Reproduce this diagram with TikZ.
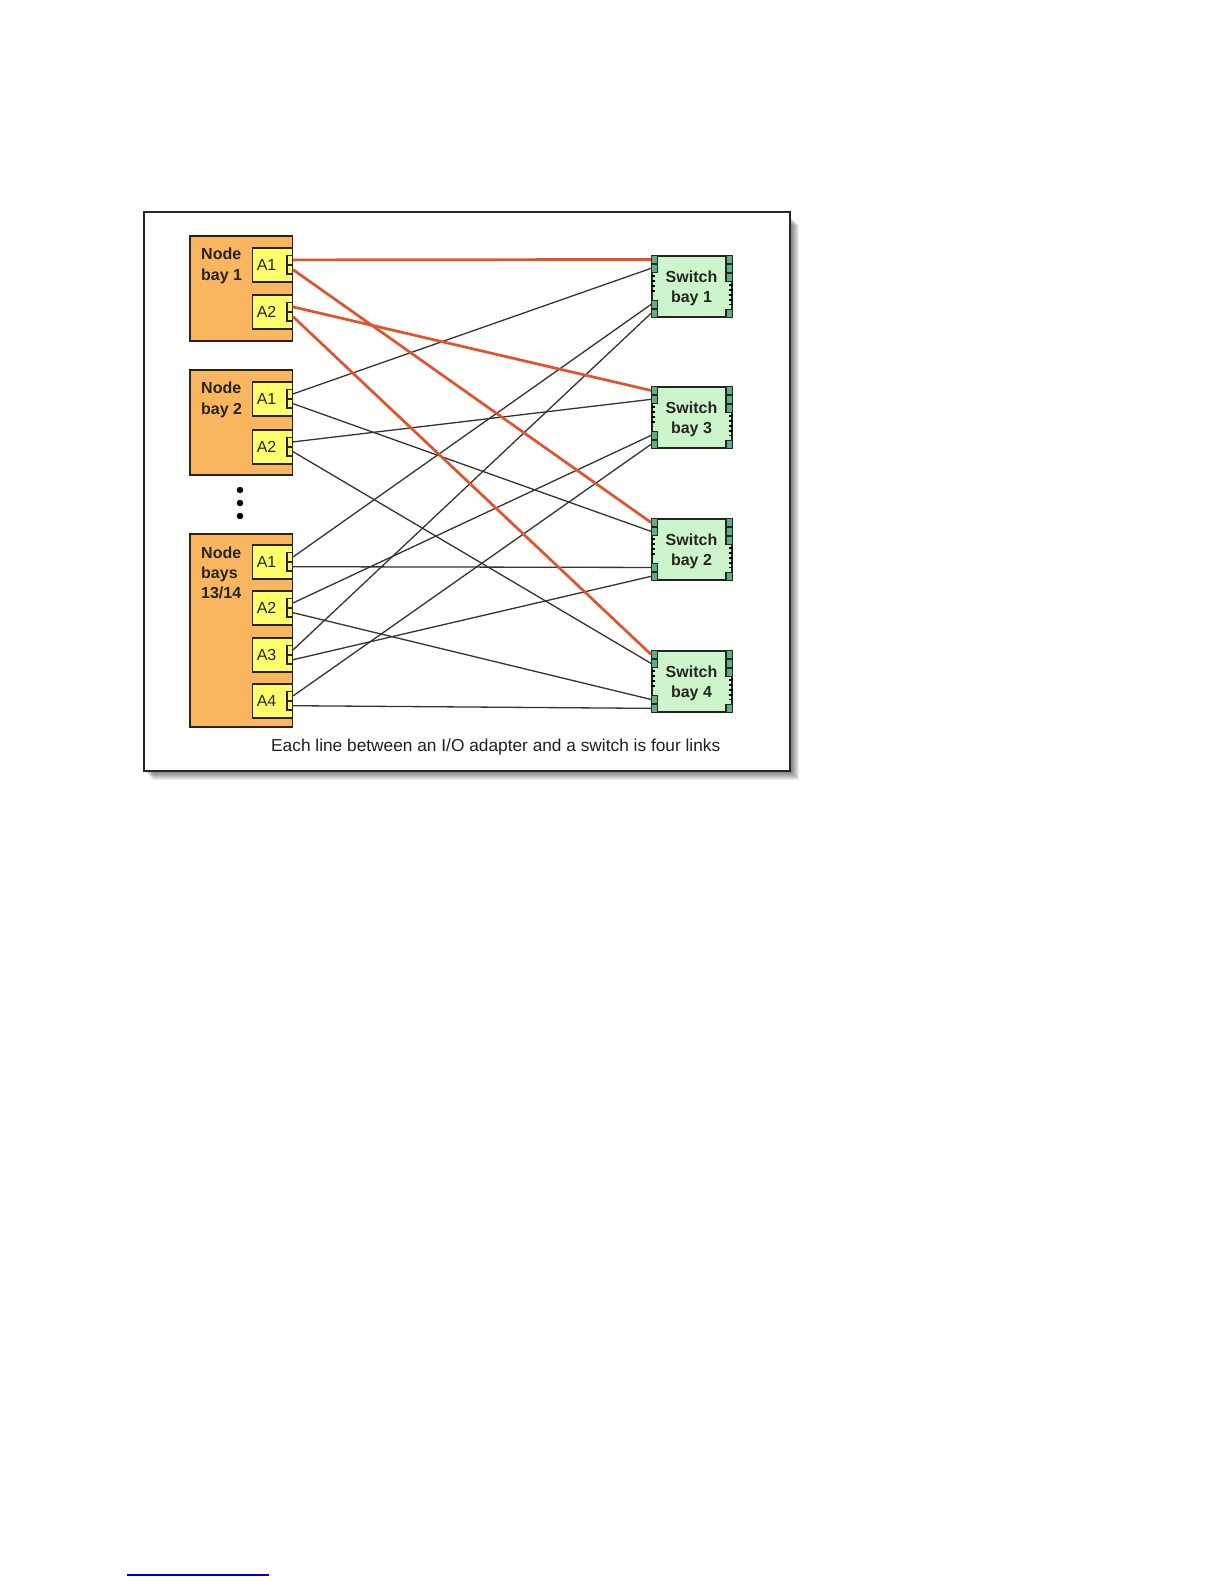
\documentclass[tikz,border=0pt]{standalone}
\usepackage{fontspec}
\setmainfont{Liberation Sans}
\definecolor{nodeorange}{HTML}{F9B65F}
\definecolor{adapteryellow}{HTML}{FFFF6B}
\definecolor{switchgreen}{HTML}{CCF5CC}
\definecolor{portgreen}{HTML}{5DB083}
\definecolor{linkred}{HTML}{E2532B}
\definecolor{edgec}{HTML}{262420}
\definecolor{linkgray}{HTML}{333333}
\definecolor{footblue}{HTML}{0000CC}
\tikzset{
  bay/.style={draw=edgec, line width=1.7, fill=nodeorange, rectangle, inner sep=0, anchor=north west, minimum width=102.5},
  baylabel/.style={anchor=north west, inner sep=0, align=left, text=edgec, font=\bfseries\fontsize{16}{21}\selectfont},
  abox/.style={draw=edgec, line width=1.6, fill=adapteryellow, rectangle, anchor=north west, minimum width=40, minimum height=34, text width=31, align=left, inner xsep=4.5, inner ysep=0, text height=11.5, text depth=0, text=edgec, font=\fontsize{16}{19}\selectfont},
  aport/.style={draw=edgec, line width=1.3, fill=adapteryellow, rectangle, inner sep=0, minimum width=5.5, minimum height=8.5},
  switchbox/.style={draw=edgec, line width=1.8, fill=switchgreen, rectangle, inner sep=0, anchor=north west, minimum width=80, minimum height=61},
  swlabel/.style={anchor=north, inner sep=0, align=center, text=edgec, font=\bfseries\fontsize{16}{20}\selectfont},
  swport/.style={draw=edgec, line width=1.1, fill=portgreen, rectangle, inner sep=0, minimum width=6.3, minimum height=7.8},
  swtick/.style={draw=black, line width=3.2, dash pattern=on 1.6 off 3.4},
  redlink/.style={draw=linkred, line width=2.7},
  graylink/.style={draw=linkgray, line width=1.3},
  dotmark/.style={circle, fill=black, inner sep=0, minimum size=6.5},
  footer/.style={anchor=base west, inner sep=0, text=black!88, font=\fontsize{17.3}{20}\selectfont},
}
\begin{document}
\begin{tikzpicture}[x=1pt, y=-1pt]
\useasboundingbox (0,0) rectangle (1225,1585);
\fill[white] (0,0) rectangle (1225,1585);
% frame with soft shadow
\foreach \i in {1,...,9} {
  \fill[black, opacity=0.07] ({144+\i},{216+\i}) rectangle ({790+\i},{771+\i});
}
\draw[fill=white, line width=1.3, draw=black!85] (144,212) rectangle (790,771);

% node bays
\node[bay, minimum height=105] (nb1) at (189,235) {};
\node[baylabel] (nb1l) at (201,247.6) {Node\\bay 1};
\node[abox] (nb1a1) at (251.5,247) {A1};
\node[abox] (nb1a2) at (251.5,294) {A2};

\node[bay, minimum height=105] (nb2) at (189,369) {};
\node[baylabel] (nb2l) at (201,381.6) {Node\\bay 2};
\node[abox] (nb2a1) at (251.5,381) {A1};
\node[abox] (nb2a2) at (251.5,429) {A2};

\node[dotmark] (d1) at (240,490) {};
\node[dotmark] (d2) at (240,503) {};
\node[dotmark] (d3) at (240,516) {};

\node[bay, minimum height=193] (nb3) at (189,533) {};
\node[baylabel, font=\bfseries\fontsize{16}{20}\selectfont] (nb3l) at (201,546.6) {Node\\bays\\13/14};
\node[abox] (nb3a1) at (251.5,544) {A1};
\node[abox] (nb3a2) at (251.5,590) {A2};
\node[abox] (nb3a3) at (251.5,637) {A3};
\node[abox] (nb3a4) at (251.5,683) {A4};

% adapter ports (upper and lower halves)
\foreach \a in {nb1a1,nb1a2,nb2a1,nb2a2,nb3a1,nb3a2,nb3a3,nb3a4} {
  \node[aport, anchor=south east] (\a u) at (\a.east) {};
  \node[aport, anchor=north east] (\a d) at (\a.east) {};
}

% switches
\foreach \s/\y/\n in {sb1/255/1, sb3/386/3, sb2/518/2, sb4/650/4} {
  \node[switchbox] (\s) at (651,\y) {};
  \node[swlabel] (\s l) at (691.5,{\y+15.3}) {Switch\\bay \n};
  \node[swport, anchor=north west] (\s u1) at (\s.north west) {};
  \node[swport, anchor=north west] (\s u2) at (\s u1.south west) {};
  \node[swport, anchor=south west] (\s d2) at (\s.south west) {};
  \node[swport, anchor=south west] (\s d1) at (\s d2.north west) {};
  \node[swport, anchor=north east] (\s r1) at (\s.north east) {};
  \node[swport, anchor=north east] (\s r2) at (\s r1.south east) {};
  \node[swport, anchor=north east] (\s r3) at (\s r2.south east) {};
  \node[swport, anchor=south east] (\s r4) at (\s.south east) {};
  \draw[swtick] ([shift={(1.9,20)}]\s.north west) -- ([shift={(1.9,40)}]\s.north west);
  \draw[swtick] ([shift={(-1.9,29)}]\s.north east) -- ([shift={(-1.9,50)}]\s.north east);
}

% gray links
\draw[graylink] (nb2a1u.east) -- (sb1u2.west);
\draw[graylink] (nb3a1u.east) -- (sb1d1.west);
\draw[graylink] (nb3a3u.east) -- (sb1d2.west);
\draw[graylink] (nb2a2u.east) -- (sb3u2.west);
\draw[graylink] (nb3a2u.east) -- (sb3d1.west);
\draw[graylink] (nb3a4u.east) -- (sb3d2.west);
\draw[graylink] (nb2a1d.east) -- (sb2u2.west);
\draw[graylink] (nb3a1d.east) -- (sb2d1.west);
\draw[graylink] (nb3a3d.east) -- (sb2d2.west);
\draw[graylink] (nb2a2d.east) -- (sb4u2.west);
\draw[graylink] (nb3a2d.east) -- (sb4d1.west);
\draw[graylink] (nb3a4d.east) -- (sb4d2.west);

% red links
\draw[redlink] (nb1a1u.east) -- (sb1u1.west);
\draw[redlink] (nb1a1d.east) -- (sb2u1.west);
\draw[redlink] (nb1a2u.east) -- (sb3u1.west);
\draw[redlink] (nb1a2d.east) -- (sb4u1.west);

% footer
\node[footer] (foot) at (271,751.7) {Each line between an I/O adapter and a switch is four links};

% blue rule at page bottom
\coordinate (bl1) at (127,1575);
\coordinate (bl2) at (269,1575);
\draw[footblue, line width=1.1] (bl1) -- (bl2);
\end{tikzpicture}
\end{document}
